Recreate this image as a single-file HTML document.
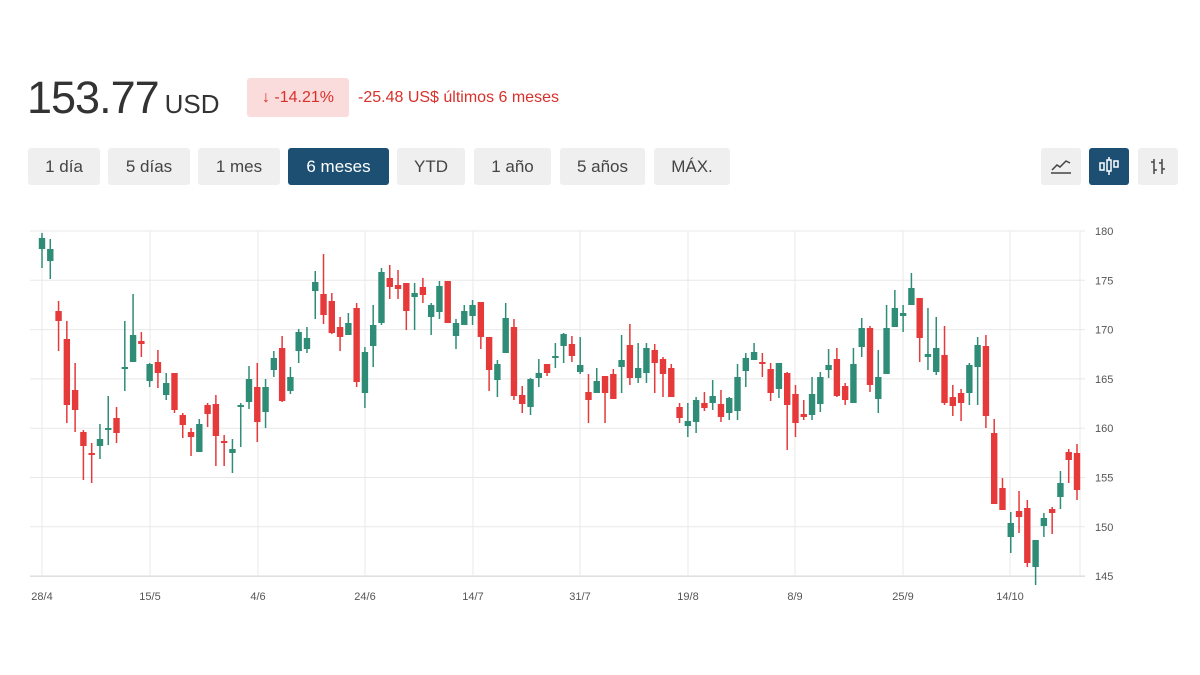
<!DOCTYPE html>
<html><head><meta charset="utf-8"><style>
body{margin:0;width:1200px;height:675px;background:#fff;font-family:"Liberation Sans",Arial,sans-serif;position:relative;overflow:hidden}
.a{position:absolute}
.btn{position:absolute;top:148px;height:37px;background:#efefef;border-radius:3px;color:#444;font-size:17px;line-height:37px;text-align:center}
.on{background:#1d4f72;color:#fff}
</style></head><body>
<div class="a" style="left:27px;top:72px;font-size:45px;color:#333;letter-spacing:-1px">153.77<span style="font-size:26px;letter-spacing:0;margin-left:6px">USD</span></div>
<div class="a" style="left:247px;top:78px;width:102px;height:39px;background:#fbdcdc;border-radius:3px;color:#d9302a;font-size:16px;line-height:39px;text-align:center">↓ -14.21%</div>
<div class="a" style="left:358px;top:89px;font-size:16px;color:#d9302a">-25.48 US$ últimos 6 meses</div>
<div class="btn" style="left:28px;width:72px">1 día</div>
<div class="btn" style="left:108px;width:82px">5 días</div>
<div class="btn" style="left:198px;width:82px">1 mes</div>
<div class="btn on" style="left:288px;width:101px">6 meses</div>
<div class="btn" style="left:397px;width:68px">YTD</div>
<div class="btn" style="left:474px;width:77px">1 año</div>
<div class="btn" style="left:560px;width:85px">5 años</div>
<div class="btn" style="left:654px;width:76px">MÁX.</div>
<div class="btn" style="left:1041px;width:40px"><svg width="40" height="37"><polyline points="11,22 16,17 19,19 25,13 29,15" fill="none" stroke="#444" stroke-width="1.5"/><line x1="10" y1="25" x2="30" y2="25" stroke="#444" stroke-width="1.5"/></svg></div>
<div class="btn on" style="left:1089px;width:40px"><svg width="40" height="37"><g fill="none" stroke="#fff" stroke-width="1.5"><rect x="11" y="15" width="4" height="7"/><rect x="18" y="12" width="4" height="11"/><rect x="25" y="13" width="4" height="6"/><line x1="20" y1="9" x2="20" y2="12"/><line x1="20" y1="23" x2="20" y2="27"/></g></svg></div>
<div class="btn" style="left:1138px;width:40px"><svg width="40" height="37"><g stroke="#444" stroke-width="1.5"><line x1="16" y1="11" x2="16" y2="26"/><line x1="13" y1="14" x2="16" y2="14"/><line x1="16" y1="22" x2="19" y2="22"/><line x1="24" y1="11" x2="24" y2="26"/><line x1="21" y1="15" x2="24" y2="15"/><line x1="24" y1="21" x2="27" y2="21"/></g></svg></div>
<svg id="c" class="a" style="left:0;top:0" width="1200" height="675"></svg>
<script>
var d=[
"g,233,238,249,268","g,239,249,261,279","r,301,311,321,351","r,321,339,405,423","r,363,390,410,432","r,430,432,446,480","r,443,453,455,483","g,424,439,446,459","g,396,428,430,445","r,407,418,433,443",
"g,321,367,369,391","g,294,335,362,362","r,332,341,344,357","g,363,364,381,387","r,350,362,373,388","g,373,383,395,400","r,373,373,410,413","r,413,415,425,438","r,428,432,437,456","g,419,424,452,452",
"r,403,405,414,427","r,395,404,436,466","r,435,441,443,466","g,439,449,453,473","g,403,405,407,447","g,366,379,402,409","r,363,387,422,442","g,379,387,412,428","g,351,358,370,377","r,336,348,401,402",
"g,367,377,391,394","g,329,332,351,363","g,327,338,349,353","g,271,282,291,319","r,254,294,315,324","r,293,301,333,334","r,317,327,337,351","g,313,323,335,335","r,303,308,382,387","g,347,352,393,408",
"g,305,325,346,367","g,268,272,323,325","r,265,278,287,299","r,270,285,289,299","r,283,283,311,330","g,283,293,297,330","r,278,287,295,303","g,303,305,317,335","g,281,286,312,319","r,281,281,323,323",
"g,319,323,336,349","g,305,311,325,325","g,300,305,316,325","r,302,302,337,349","r,337,337,370,391","g,360,364,380,397","g,303,318,353,353","r,319,327,396,400","r,386,395,404,413","g,378,379,407,415",
"g,359,373,378,387","r,364,364,373,376","g,343,356,358,368","g,333,334,346,363","r,336,344,356,362","g,337,365,372,374","r,374,392,400,423","g,368,381,393,393","r,376,376,393,423","r,369,374,399,399",
"g,335,360,367,393","r,324,345,378,385","g,343,368,378,383","g,343,348,373,383","r,344,350,363,393","r,357,359,374,397","r,364,368,397,397","r,403,407,418,423","g,403,421,426,437","g,397,400,422,433",
"r,392,403,408,411","g,380,396,403,410","r,390,404,417,422","g,397,398,413,420","g,364,377,411,420","g,353,358,371,387","g,343,352,360,360","r,353,362,363,377","r,363,369,393,401","g,363,363,389,398",
"r,372,373,405,450","r,385,394,423,437","r,400,414,417,420","g,377,394,415,420","g,372,377,404,412","g,349,365,370,378","r,348,359,396,397","r,383,386,400,405","g,348,364,403,403","g,318,328,347,357",
"r,326,328,385,392","g,350,377,399,413","g,305,328,374,374","g,290,308,327,327","g,305,313,316,332","g,273,288,305,305","r,298,298,338,362","g,308,354,357,370","g,317,348,372,375","r,326,355,403,405",
"r,385,397,406,416","r,389,393,403,421","g,363,365,393,405","g,337,345,367,405","r,335,346,416,428","r,419,433,504,504","r,478,488,510,510","g,512,523,537,553","r,491,511,517,533","r,500,508,563,567",
"g,540,540,567,585","g,513,518,526,537","r,507,509,513,534","g,471,483,497,509","r,449,452,460,483","r,444,453,490,500"];
var s='';
for(var i=0;i<8;i++){var y=231+i*49.3;s+='<line x1="30" x2="1085" y1="'+y+'" y2="'+y+'" stroke="'+(i==7?'#ccc':'#e8e8e8')+'"/>';
s+='<text x="1095" y="'+(y+4)+'" font-size="11" fill="#555">'+(180-5*i)+'</text>';}
var xs=[42,150,258,365,473,580,688,795,903,1010],lb=["28/4","15/5","4/6","24/6","14/7","31/7","19/8","8/9","25/9","14/10"];
for(i=0;i<10;i++){s+='<line x1="'+xs[i]+'" x2="'+xs[i]+'" y1="231" y2="576" stroke="#e8e8e8"/><text x="'+xs[i]+'" y="600" font-size="11" fill="#555" text-anchor="middle">'+lb[i]+'</text>';}
s+='<line x1="1080" x2="1080" y1="231" y2="576" stroke="#e8e8e8"/>';
for(i=0;i<d.length;i++){var p=d[i].split(','),c=p[0]=='g'?'#2f8c76':'#e5393a',x=42+i*8.28;
var a=+p[1],b=+p[2],e=+p[3],f=+p[4];if(e-b<2)e=b+2;
s+='<line x1="'+x+'" x2="'+x+'" y1="'+a+'" y2="'+f+'" stroke="'+c+'" stroke-width="1.5"/><rect x="'+(x-3.2)+'" y="'+b+'" width="6.4" height="'+(e-b)+'" fill="'+c+'"/>';}
document.getElementById('c').innerHTML=s;
</script>
</body></html>
